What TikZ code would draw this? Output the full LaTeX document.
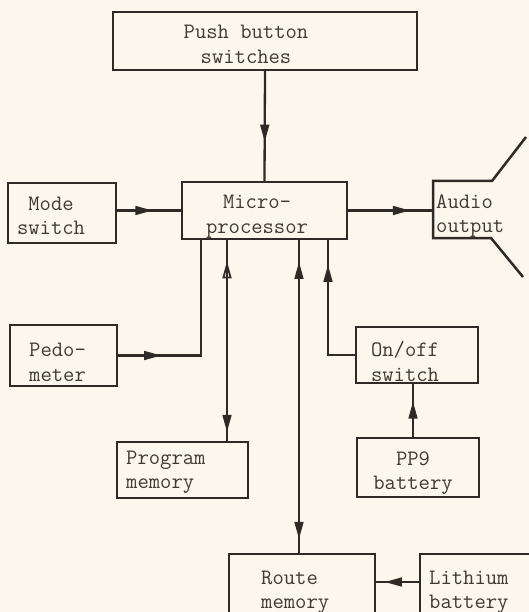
\documentclass[tikz,border=0pt]{standalone}
\usetikzlibrary{arrows.meta,decorations.markings}
\definecolor{bg}{HTML}{FBF7EC}
\definecolor{ink}{HTML}{2E2A25}
\definecolor{txt}{HTML}{3F3A34}
\tikzset{
  Tri/.tip={Triangle[length=17pt,width=9pt]},
  TriO/.tip={Triangle[open,length=17pt,width=9pt]},
  box/.style={draw=ink, line width=2.5pt, inner sep=0pt, outer sep=0pt, rectangle},
  lbl/.style={text=txt, font=\fontsize{22}{24.5}\selectfont\ttfamily, inner sep=0pt, align=center},
  lbll/.style={lbl, align=left, anchor=west},
  wire/.style={draw=ink, line width=2.3pt, line join=miter},
  fwdat/.style={postaction={decorate, decoration={markings, mark=at position #1 with {\arrow[ink,line width=1.6pt]{Tri}}}}},
  bidir/.style n args={2}{postaction={decorate, decoration={markings,
      mark=at position #1 with {\arrowreversed[ink,line width=1.6pt]{Tri}},
      mark=at position #2 with {\arrow[ink,line width=1.6pt]{Tri}}}}},
  bidiro/.style n args={2}{postaction={decorate, decoration={markings,
      mark=at position #1 with {\arrowreversed[ink,line width=1.8pt]{TriO}},
      mark=at position #2 with {\arrow[ink,line width=1.6pt]{Tri}}}}},
}
\begin{document}
\begin{tikzpicture}[x=1pt,y=-1pt]
\useasboundingbox (0,0) rectangle (529,612);
\fill[bg] (0,0) rectangle (529,612);
\clip (0,0) rectangle (529,612);

% boxes
\node[box, minimum width=304pt, minimum height=58pt] (push) at (265,41) {};
\node[box, minimum width=165pt, minimum height=57pt] (micro) at (264.5,210.5) {};
\node[box, minimum width=108pt, minimum height=60pt] (mode) at (62,213) {};
\node[box, minimum width=107pt, minimum height=61pt] (pedo) at (63.5,355.5) {};
\node[box, minimum width=122pt, minimum height=56pt] (onoff) at (417,355) {};
\node[box, minimum width=122pt, minimum height=59pt] (pp9) at (418,467.5) {};
\node[box, minimum width=131pt, minimum height=56pt] (prog) at (182.5,470) {};
\node[box, minimum width=146pt, minimum height=96pt] (route) at (302,602) {};
\node[box, minimum width=140pt, minimum height=96pt] (lith) at (490,602) {};

% audio output (open box with horn)
\coordinate (h1) at (526,137);
\coordinate (h2) at (492,181);
\coordinate (h3) at (433,181);
\coordinate (h4) at (433,238);
\coordinate (h5) at (491,238);
\coordinate (h6) at (523,277);
\draw[wire, line width=2.5pt] (h1) -- (h2) -- (h3) -- (h4) -- (h5) -- (h6);
\coordinate (audioin) at (433,210.5);

% labels
\node[lbl] (tpush) at (246,44.5) {Push button\\switches};
\node[lbl] (tmicro) at (257,216.5) {Micro-\\processor};
\node[lbl] (tmode) at (51,216) {Mode\\switch};
\node[lbll] (audio) at (436,216) {Audio\\output};
\node[lbll] (tpedo) at (29,362.5) {Pedo-\\meter};
\node[lbl] (tonoff) at (405,361.5) {On/off\\switch};
\node[lbl] (tpp9) at (413,473) {PP9\\battery};
\node[lbll] (tprog) at (126,472.5) {Program\\memory};
\node[lbll] (troute) at (261,592.5) {Route\\memory};
\node[lbll] (tlith) at (429,592.5) {Lithium\\battery};

% connection points
\coordinate (m1) at (201,239);
\coordinate (m2) at (227,239);
\coordinate (m3) at (299,239);
\coordinate (m4) at (328,239);
\coordinate (p9) at (413,438);
\coordinate (l1) at (420,582);

% connectors
\draw[wire, fwdat=0.64] (push.south) -- (micro.north);
\draw[wire, fwdat=0.55] (mode.east |- micro.west) -- (micro.west);
\draw[wire, fwdat=0.73] (micro.east) -- (audioin);
\draw[wire, fwdat=0.22] (pedo.east) -| (m1);
\draw[wire, bidiro={0.11}{0.95}] (m2) -- (m2 |- prog.north);
\draw[wire, bidir={0.073}{0.952}] (m3) -- (m3 |- route.north);
\draw[wire, fwdat=0.82] (onoff.west) -| (m4);
\draw[wire, fwdat=0.66] (p9) -- (p9 |- onoff.south);
\draw[wire, fwdat=0.78] (l1) -- (l1 -| route.east);
\end{tikzpicture}
\end{document}
